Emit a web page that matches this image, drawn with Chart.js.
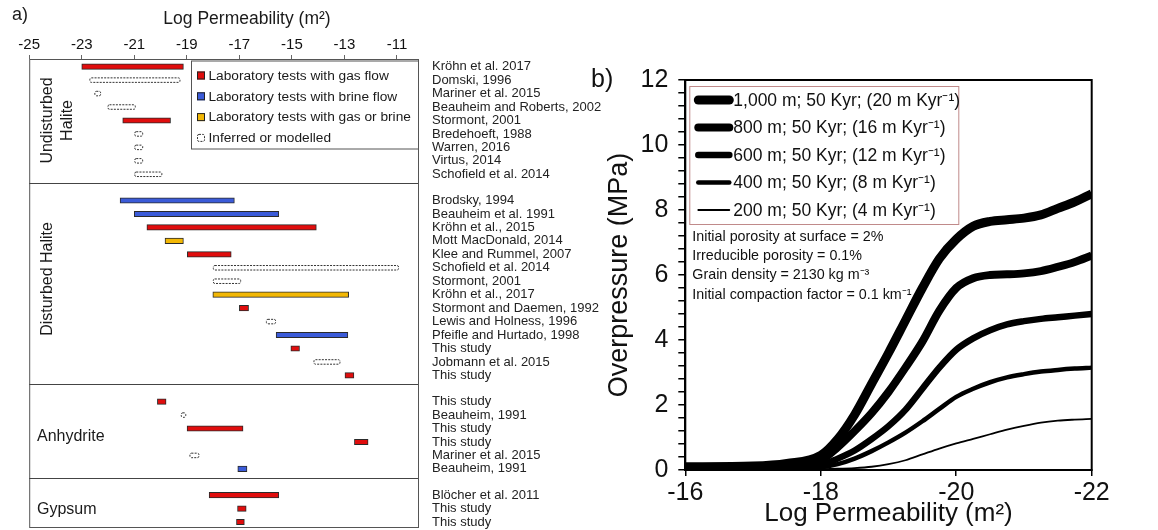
<!DOCTYPE html>
<html>
<head>
<meta charset="utf-8">
<script src="https://cdn.jsdelivr.net/npm/chart.js@4.4.1/dist/chart.umd.min.js"></script>
<style>
  body { margin: 0; background: #fff; width: 1158px; height: 530px; overflow: hidden; position: relative; }
  canvas { position: absolute; top: 0; }
  #ca { left: 0; }
  #cb { left: 580px; }
</style>
</head>
<body>
<canvas id="ca" width="612" height="530"></canvas>
<canvas id="cb" width="578" height="530"></canvas>
<script>
const FONT = "'Liberation Sans', Arial, sans-serif";

// ---- panel a: permeability ranges ----
const groupNames = ['Undisturbed Halite', 'Disturbed Halite', 'Anhydrite', 'Gypsum'];
const rowsPerGroup = [9, 14, 6, 3];
const xTicksA = [-25, -23, -21, -19, -17, -15, -13, -11];

const refs = [
  'Kröhn et al. 2017', 'Domski, 1996', 'Mariner et al. 2015', 'Beauheim and Roberts, 2002',
  'Stormont, 2001', 'Bredehoeft, 1988', 'Warren, 2016', 'Virtus, 2014', 'Schofield et al. 2014',
  'Brodsky, 1994', 'Beauheim et al. 1991', 'Kröhn et al., 2015', 'Mott MacDonald, 2014',
  'Klee and Rummel, 2007', 'Schofield et al. 2014', 'Stormont, 2001', 'Kröhn et al., 2017',
  'Stormont and Daemen, 1992', 'Lewis and Holness, 1996', 'Pfeifle and Hurtado, 1998',
  'This study', 'Jobmann et al. 2015', 'This study',
  'This study', 'Beauheim, 1991', 'This study', 'This study', 'Mariner et al. 2015', 'Beauheim, 1991',
  'Blöcher et al. 2011', 'This study', 'This study'
];
const kind = [
  'gas', 'inferred', 'inferred', 'inferred', 'gas', 'inferred', 'inferred', 'inferred', 'inferred',
  'brine', 'brine', 'gas', 'either', 'gas', 'inferred', 'inferred', 'either', 'gas', 'inferred',
  'brine', 'gas', 'inferred', 'gas',
  'gas', 'inferred', 'gas', 'gas', 'inferred', 'brine',
  'gas', 'gas', 'gas'
];
const lowA = [
  -23.0, -22.71, -22.52, -22.02, -21.44, -21.0, -21.0, -21.0, -21.0,
  -21.54, -21.0, -20.52, -19.83, -18.98, -18.01, -18.01, -18.01, -17.0, -15.99, -15.6, -15.04, -14.18, -12.98,
  -20.12, -19.23, -18.99, -12.62, -18.9, -17.06,
  -18.15, -17.07, -17.11
];
const highA = [
  -19.13, -19.28, -22.3, -20.98, -19.62, -20.7, -20.7, -20.7, -19.97,
  -17.19, -15.5, -14.07, -19.13, -17.31, -10.96, -16.97, -12.84, -16.65, -15.64, -12.87, -14.71, -13.19, -12.64,
  -19.79, -19.06, -16.86, -12.1, -18.56, -16.71,
  -15.5, -16.74, -16.81
];
const kinds = ['gas', 'brine', 'either', 'inferred'];
const kindLabels = ['Laboratory tests with gas flow', 'Laboratory tests with brine flow',
  'Laboratory tests with gas or brine', 'Inferred or modelled'];
const kindColors = ['#e00d0d', '#3b5bd8', '#f2b705', '#ffffff'];

// row positions: one unit per row, a gap between groups
const GAP = 1.95;
const rowPos = [];
const groupLast = [];
let p = 0;
rowsPerGroup.forEach((n, g) => {
  if (g) p += GAP - 1;
  for (let i = 0; i < n; i++) rowPos.push(p++);
  groupLast.push(p - 1);
});

const datasetsA = kinds.map((k, j) => ({
  label: kindLabels[j],
  data: refs.map((r, i) => kind[i] === k ? { x: [lowA[i], highA[i]], y: rowPos[i] } : null).filter(d => d),
  backgroundColor: k === 'inferred' ? 'rgba(0,0,0,0)' : kindColors[j],
  borderColor: k === 'inferred' ? 'rgba(0,0,0,0)' : '#2a2a2a',
  borderWidth: k === 'inferred' ? 0 : 1,
  borderSkipped: false,
  barThickness: 5.5,
  grouped: false,
  inferred: k === 'inferred'
}));

function dashedBox(ctx, l, t, w, h) {
  ctx.beginPath();
  if (ctx.roundRect) ctx.roundRect(l, t, w, h, 1.5); else ctx.rect(l, t, w, h);
  ctx.stroke();
}

const panelA = {
  id: 'panelA',
  beforeDatasetsDraw(chart) {
    const { ctx, chartArea: a, scales: { y } } = chart;
    ctx.save();
    ctx.strokeStyle = '#555';
    ctx.lineWidth = 1;
    ctx.strokeRect(a.left + 0.5, a.top + 0.5, a.right - a.left, a.bottom - a.top);
    ctx.strokeStyle = '#444';
    groupLast.slice(0, -1).forEach(v => {
      const py = Math.round(y.getPixelForValue(v + 0.65)) + 0.5;
      ctx.beginPath(); ctx.moveTo(a.left, py); ctx.lineTo(a.right, py); ctx.stroke();
    });
    ctx.restore();
  },
  afterDatasetsDraw(chart) {
    const { ctx, chartArea: a, scales: { y } } = chart;
    ctx.save();
    // inferred ranges: dashed outlines
    ctx.strokeStyle = '#333';
    ctx.lineWidth = 1;
    ctx.setLineDash([2, 1.2]);
    chart.data.datasets.forEach((ds, di) => {
      if (!ds.inferred) return;
      chart.getDatasetMeta(di).data.forEach(bar => {
        const { x, y: cy, base, height } = bar.getProps(['x', 'y', 'base', 'height'], true);
        dashedBox(ctx, Math.min(x, base) + 0.5, cy - height / 2 + 0.5, Math.abs(x - base), height - 1);
      });
    });
    ctx.setLineDash([]);

    // legend
    const bl = a.right - 227, bt = a.top + 1.5, bw = 227, bh = 88;
    ctx.fillStyle = '#fff';
    ctx.fillRect(bl, bt, bw, bh);
    ctx.strokeStyle = '#555';
    ctx.strokeRect(bl + 0.5, bt + 0.5, bw, bh);
    ctx.font = '13.7px ' + FONT;
    ctx.textBaseline = 'middle';
    chart.data.datasets.forEach((ds, i) => {
      const cy = bt + 15 + i * 20.8;
      if (ds.inferred) {
        ctx.setLineDash([2, 1.2]);
        ctx.strokeStyle = '#333';
        dashedBox(ctx, bl + 6.5, cy - 3.5, 7, 7);
        ctx.setLineDash([]);
      } else {
        ctx.fillStyle = ds.backgroundColor;
        ctx.fillRect(bl + 6, cy - 4, 8, 8);
        ctx.strokeStyle = '#222';
        ctx.strokeRect(bl + 6.5, cy - 3.5, 7, 7);
      }
      ctx.fillStyle = '#1a1a1a';
      ctx.fillText(ds.label, bl + 17.5, cy + 0.5);
    });

    // group labels
    ctx.fillStyle = '#1a1a1a';
    ctx.font = '16px ' + FONT;
    ctx.textAlign = 'center';
    let start = 0;
    rowsPerGroup.forEach((n, g) => {
      const cy = (y.getPixelForValue(rowPos[start]) + y.getPixelForValue(rowPos[start + n - 1])) / 2;
      start += n;
      if (g === 0) {
        const words = groupNames[g].split(' ');
        ctx.save(); ctx.translate(48, cy); ctx.rotate(-Math.PI / 2);
        ctx.fillText(words[0], 0, 0); ctx.fillText(words[1], 0, 20);
        ctx.restore();
      } else if (g === 1) {
        ctx.save(); ctx.translate(48, cy - 9); ctx.rotate(-Math.PI / 2);
        ctx.fillText(groupNames[g], 0, 0);
        ctx.restore();
      } else {
        ctx.textAlign = 'left';
        ctx.fillText(groupNames[g], 37, cy + 1);
        ctx.textAlign = 'center';
      }
    });

    // panel letter and axis title
    ctx.textAlign = 'left';
    ctx.font = '18px ' + FONT;
    ctx.fillText('a)', 12, 15);
    ctx.textAlign = 'center';
    ctx.font = '17.5px ' + FONT;
    ctx.fillText('Log Permeability (m²)', 247, 19);
    ctx.restore();
  }
};

new Chart(document.getElementById('ca'), {
  type: 'bar',
  data: { datasets: datasetsA },
  options: {
    responsive: false,
    animation: false,
    indexAxis: 'y',
    layout: { padding: { left: 29.2, top: 0, bottom: 3, right: 0 } },
    plugins: { legend: { display: false }, tooltip: { enabled: false } },
    scales: {
      x: {
        type: 'linear', position: 'top', min: -25, max: -10.2,
        afterBuildTicks: s => { s.ticks = xTicksA.map(v => ({ value: v })); },
        afterFit: s => { s.height = 59; },
        grid: { drawOnChartArea: false, drawTicks: true, tickLength: 4, color: '#666' },
        border: { display: false },
        ticks: { font: { family: FONT, size: 15 }, color: '#111', padding: 1, maxRotation: 0, callback: v => String(v) }
      },
      y: {
        type: 'linear', position: 'right', reverse: true, offset: false, min: -0.57, max: 34.22,
        afterBuildTicks: s => { s.ticks = rowPos.map(v => ({ value: v })); },
        afterFit: s => { s.width = 194; s.paddingTop = 0; s.paddingBottom = 0; },
        grid: { display: false, drawTicks: false, offset: false },
        border: { display: false },
        ticks: { autoSkip: false, padding: 14, font: { family: FONT, size: 13 }, color: '#222', callback: (v, i) => refs[i] }
      }
    }
  },
  plugins: [panelA]
});

// ---- panel b: overpressure curves ----
const perm = [-16, -17, -17.5, -18, -18.25, -18.5, -18.75, -19, -19.25, -19.5, -19.75,
  -20, -20.25, -20.5, -20.75, -21, -21.25, -21.5, -21.75, -22];
const op1000 = [0.1, 0.12, 0.2, 0.45, 0.95, 1.7, 2.65, 3.6, 4.6, 5.6, 6.5,
  7.1, 7.5, 7.65, 7.7, 7.75, 7.85, 8.05, 8.25, 8.5];
const op800 = [0.08, 0.1, 0.14, 0.3, 0.7, 1.2, 1.75, 2.4, 3.15, 3.95, 4.9,
  5.6, 5.9, 6.0, 6.02, 6.05, 6.12, 6.25, 6.4, 6.6];
const op600 = [0.05, 0.06, 0.08, 0.15, 0.35, 0.6, 0.95, 1.35, 1.85, 2.5, 3.15,
  3.7, 4.05, 4.3, 4.48, 4.58, 4.65, 4.7, 4.75, 4.8];
const op400 = [0.03, 0.03, 0.04, 0.08, 0.18, 0.35, 0.58, 0.85, 1.15, 1.5, 1.88,
  2.25, 2.5, 2.7, 2.85, 2.95, 3.03, 3.08, 3.12, 3.15];
const op200 = [0.02, 0.02, 0.02, 0.03, 0.04, 0.06, 0.1, 0.18, 0.3, 0.48, 0.66,
  0.82, 0.96, 1.1, 1.24, 1.36, 1.46, 1.52, 1.55, 1.57];
const seriesB = [op1000, op800, op600, op400, op200];
const seriesLabels = [
  '1,000 m; 50 Kyr; (20 m Kyr⁻¹)',
  '800 m; 50 Kyr; (16 m Kyr⁻¹)',
  '600 m; 50 Kyr; (12 m Kyr⁻¹)',
  '400 m; 50 Kyr; (8 m Kyr⁻¹)',
  '200 m; 50 Kyr; (4 m Kyr⁻¹)'
];
const notes = [
  'Initial porosity at surface = 2%',
  'Irreducible porosity = 0.1%',
  'Grain density = 2130 kg m⁻³',
  'Initial compaction factor = 0.1 km⁻¹'
];
const lineWidths = [9, 8, 6.5, 4.5, 1.8];

const datasetsB = seriesB.map((s, i) => ({
  label: seriesLabels[i],
  data: perm.map((x, k) => ({ x: x, y: s[k] })),
  borderColor: '#000',
  borderWidth: lineWidths[i],
  pointRadius: 0,
  cubicInterpolationMode: 'monotone',
  fill: false
}));

const panelB = {
  id: 'panelB',
  afterDatasetsDraw(chart) {
    const { ctx, chartArea: a } = chart;
    ctx.save();
    ctx.strokeStyle = '#000';
    ctx.lineWidth = 2;
    ctx.strokeRect(a.left, a.top, a.right - a.left, a.bottom - a.top);

    // legend
    const bl = a.left + 4, bt = a.top + 6, bw = 269, bh = 138;
    ctx.fillStyle = '#fff';
    ctx.fillRect(bl, bt, bw, bh);
    ctx.strokeStyle = '#c08a8a';
    ctx.lineWidth = 1;
    ctx.strokeRect(bl + 0.5, bt + 0.5, bw, bh);
    ctx.font = '17.5px ' + FONT;
    ctx.textBaseline = 'middle';
    chart.data.datasets.forEach((ds, i) => {
      const cy = bt + 14 + i * 27.5;
      ctx.strokeStyle = '#000';
      ctx.lineWidth = ds.borderWidth;
      ctx.lineCap = 'round';
      ctx.beginPath(); ctx.moveTo(bl + 9, cy); ctx.lineTo(bl + 40, cy); ctx.stroke();
      ctx.fillStyle = '#111';
      ctx.fillText(ds.label, bl + 44, cy + 1);
    });

    // model parameters
    ctx.font = '14.3px ' + FONT;
    notes.forEach((t, i) => ctx.fillText(t, a.left + 7, a.top + 157 + i * 19.2));

    ctx.font = '25px ' + FONT;
    ctx.textAlign = 'left';
    ctx.fillText('b)', 11, a.top);
    ctx.restore();
  }
};

new Chart(document.getElementById('cb'), {
  type: 'line',
  data: { datasets: datasetsB },
  options: {
    responsive: false,
    animation: false,
    layout: { padding: { left: 0, top: 80, right: 66.3, bottom: 0 } },
    plugins: { legend: { display: false }, tooltip: { enabled: false } },
    scales: {
      x: {
        type: 'linear', min: -22, max: -16, reverse: true,
        afterFit: s => { s.height = 60; },
        grid: { drawOnChartArea: false, tickLength: 6, color: '#000', lineWidth: 1.5 },
        border: { color: '#000', width: 2 },
        ticks: { stepSize: 2, font: { family: FONT, size: 25 }, color: '#111', padding: 2, callback: v => String(v) },
        title: { display: true, text: 'Log Permeability (m²)', color: '#111',
          font: { family: FONT, size: 26, lineHeight: 1.2 }, padding: { top: 0, bottom: 1 } }
      },
      y: {
        type: 'linear', min: 0, max: 12,
        afterFit: s => { s.width = 105.3; },
        grid: { drawOnChartArea: false, tickLength: 7, color: '#000', lineWidth: 1.5 },
        border: { color: '#000', width: 2 },
        ticks: { stepSize: 0.4, autoSkip: false, font: { family: FONT, size: 25 }, color: '#111', padding: 10,
          callback: v => Math.abs(v / 2 - Math.round(v / 2)) < 1e-6 ? String(Math.round(v)) : '' },
        title: { display: true, text: 'Overpressure (MPa)', color: '#111',
          font: { family: FONT, size: 27, lineHeight: 1.2 }, padding: { top: 23, bottom: 0 } }
      }
    }
  },
  plugins: [panelB]
});
</script>
</body>
</html>
